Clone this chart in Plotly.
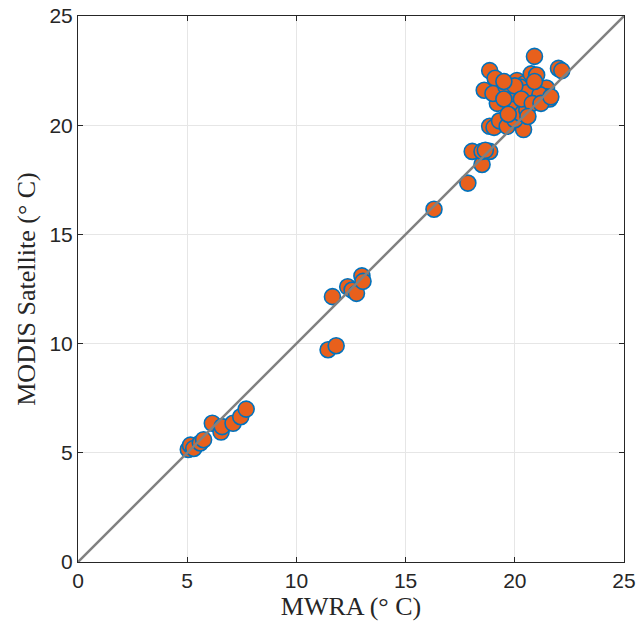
import plotly.graph_objects as go

mwra = [5.05, 5.15, 5.3, 5.6, 5.75, 6.15, 6.55, 6.6, 7.1, 7.45, 7.7,
        11.65, 12.35, 12.55, 12.75, 13.0, 13.05, 11.45, 11.82,
        16.3, 17.85,
        18.05, 18.5, 18.5, 18.85, 18.65,
        18.85, 19.05, 19.3, 19.65, 20.4, 20.0, 20.25, 20.55, 19.2, 19.8,
        21.6, 18.85, 20.9, 18.6, 19.4, 19.1, 20.1, 19.0, 19.9, 20.45, 20.75,
        22.0, 22.15, 19.6, 20.25, 21.0, 21.45, 21.45, 20.55, 21.15, 19.5,
        20.0, 20.3, 19.7, 20.8, 21.2, 19.5, 20.6, 20.9, 21.65]
modis = [5.15, 5.35, 5.2, 5.45, 5.6, 6.35, 5.95, 6.2, 6.35, 6.65, 7.0,
         12.15, 12.6, 12.45, 12.3, 13.1, 12.85, 9.72, 9.9,
         16.15, 17.35,
         18.8, 18.2, 18.8, 18.8, 18.85,
         19.95, 19.9, 20.2, 19.95, 19.8, 20.25, 20.55, 20.7, 21.0, 21.0,
         21.2, 22.5, 23.15, 21.6, 21.6, 22.15, 22.05, 21.45, 21.45, 21.9, 22.35,
         22.6, 22.5, 21.75, 21.75, 22.3, 21.7, 21.3, 21.5, 21.4, 21.2,
         21.8, 21.2, 20.5, 21.0, 21.0, 22.0, 20.4, 22.0, 21.3]

line_x = [0, 25]
line_y = [0, 25]
ticks = [0, 5, 10, 15, 20, 25]

fig = go.Figure()
fig.add_trace(go.Scatter(
    x=mwra, y=modis, mode="markers",
    marker=dict(size=16, color="#E8601C", line=dict(color="#0072BD", width=1.6)),
    showlegend=False, cliponaxis=False))
fig.add_trace(go.Scatter(
    x=line_x, y=line_y, mode="lines",
    line=dict(color="#808080", width=2.5), showlegend=False))

axis_common = dict(
    range=[0, 25], tickvals=ticks, ticks="inside", ticklen=5, tickcolor="#262626",
    showline=True, linecolor="#262626", linewidth=1, mirror="ticks",
    showgrid=True, gridcolor="#e6e6e6", gridwidth=1, zeroline=False,
    automargin=False,
    tickfont=dict(family="Liberation Sans, Arial", size=21, color="#262626"),
)
fig.update_xaxes(**axis_common,
                 title=dict(text="MWRA (° C)", standoff=4,
                            font=dict(family="Liberation Serif, serif", size=26, color="#262626")))
fig.update_yaxes(**axis_common,
                 title=dict(text="MODIS Satellite (° C)", standoff=6,
                            font=dict(family="Liberation Serif, serif", size=26, color="#262626")))
fig.update_layout(
    width=637, height=632,
    margin=dict(l=78, r=13, t=16, b=70),
    plot_bgcolor="white", paper_bgcolor="white",
)
fig.write_html("out.html")
